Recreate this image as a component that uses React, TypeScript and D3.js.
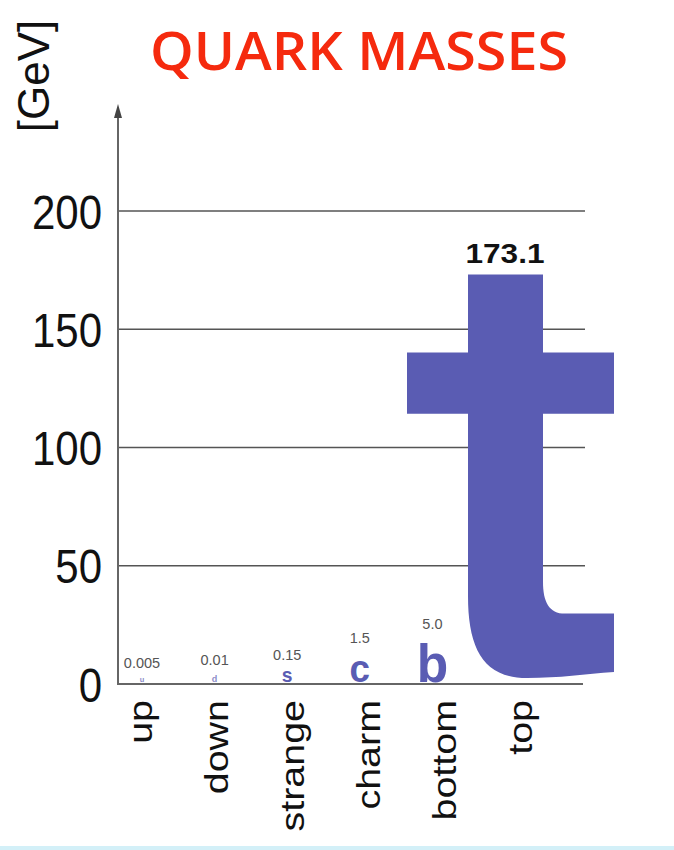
import React from "react";
import * as d3 from "d3";

const quarks = ["up", "down", "strange", "charm", "bottom", "top"];
const symbols = ["u", "d", "s", "c", "b", "t"];
const masses = [0.005, 0.01, 0.15, 1.5, 5.0, 173.1];
const massLabels = ["0.005", "0.01", "0.15", "1.5", "5.0", "173.1"];
const yTicks = [0, 50, 100, 150, 200];
const gridTicks = [50, 100, 150, 200];

const W = 674;
const H = 850;
const PURPLE = "#5a5cb3";
const SANS = "'Liberation Sans', Arial, Helvetica, sans-serif";

export default function App() {
  const y = d3.scaleLinear().domain([0, 200]).range([684, 211]);
  const xLabel = d3.scalePoint().domain(quarks).range([140, 520]);
  const xGlyph = d3.scalePoint().domain(quarks).range([142, 505]);
  const size = d3.scalePow().exponent(0.28).domain([0, 5]).range([0, 46]);

  const axisX = 118;
  const gridEnd = 585;
  const y0 = y(0);

  // big "t" glyph for the top quark, height given by its mass
  const topMass = masses[5];
  const cx = xGlyph("top") as number;
  const L = cx - 37;
  const R = cx + 38;
  const top = y(topMass);
  const crossTop = y(topMass * 0.81);
  const crossBot = y(topMass * 0.66);
  const hookTop = y(topMass * 0.172);
  const innerStart = y(topMass * 0.25);
  const leftStart = y(topMass * 0.215);
  const bottom = y0 - 6;
  const bottomRight = y0 - 12;
  const p = d3.path();
  p.moveTo(L, top);
  p.lineTo(R, top);
  p.lineTo(R, crossTop);
  p.lineTo(cx + 109, crossTop);
  p.lineTo(cx + 109, crossBot);
  p.lineTo(R, crossBot);
  p.lineTo(R, innerStart);
  p.bezierCurveTo(R, hookTop - 12, R + 6, hookTop, R + 22, hookTop);
  p.lineTo(cx + 109, hookTop);
  p.lineTo(cx + 109, bottomRight);
  p.bezierCurveTo(cx + 80, bottomRight + 2, cx + 55, bottom, cx + 22, bottom);
  p.bezierCurveTo(cx - 22, bottom, L, bottom - 30, L, leftStart);
  p.lineTo(L, crossBot);
  p.lineTo(cx - 98, crossBot);
  p.lineTo(cx - 98, crossTop);
  p.lineTo(L, crossTop);
  p.closePath();

  return (
    <svg
      width={W}
      height={H}
      style={{ position: "absolute", left: 0, top: 0, background: "#fff" }}
    >
      <rect x={0} y={0} width={W} height={H} fill="#fff" />
      {/* title */}
      <text
        x={359}
        y={70}
        textAnchor="middle"
        fontFamily="'Open Sans', sans-serif"
        fontWeight={600}
        fontSize={53}
        textLength={418}
        lengthAdjust="spacingAndGlyphs"
        fill="#f52a0e"
      >
        QUARK MASSES
      </text>
      {/* y axis unit */}
      <text
        transform="translate(49,76) rotate(-90)"
        textAnchor="middle"
        fontFamily={SANS}
        fontSize={44}
        fill="#111"
      >
        [GeV]
      </text>
      {/* grid lines */}
      {gridTicks.map((t) => (
        <line
          key={t}
          x1={axisX}
          x2={gridEnd}
          y1={y(t)}
          y2={y(t)}
          stroke="#555"
          strokeWidth={1.5}
        />
      ))}
      {/* axes */}
      <line x1={axisX} x2={583} y1={y0} y2={y0} stroke="#666" strokeWidth={2} />
      <line x1={axisX} x2={axisX} y1={y0 + 1} y2={112} stroke="#666" strokeWidth={2} />
      <path
        d={`M${axisX},104 L${axisX - 4},118 L${axisX + 4},118 Z`}
        fill="#444"
      />
      {/* y tick labels */}
      {yTicks.map((t) => (
        <text
          key={t}
          transform={`translate(102,${y(t)}) scale(1,1.16)`}
          dy="0.36em"
          textAnchor="end"
          fontFamily={SANS}
          fontSize={42}
          fill="#111"
        >
          {t}
        </text>
      ))}
      {/* small quark letters */}
      {quarks.slice(0, 5).map((q, i) => {
        const fs = size(masses[i]);
        const tall = /[bdhklt]/.test(symbols[i]);
        const hgt = (tall ? 0.72 : 0.52) * fs * 1.16;
        const gx = xGlyph(q) as number;
        const base = y0 - 2;
        const labelY = Math.min(base - hgt - 10, base - 0.92 * fs * 1.16 - 4);
        return (
          <g key={q}>
            <text
              transform={`translate(${gx},${base}) scale(1.12,1.16)`}
              textAnchor="middle"
              fontFamily={SANS}
              fontWeight="bold"
              fontSize={fs}
              fill={PURPLE}
              opacity={fs < 10 ? 0.7 : 1}
            >
              {symbols[i]}
            </text>
            <text
              x={gx}
              y={labelY}
              textAnchor="middle"
              fontFamily={SANS}
              fontSize={14.5}
              fill="#555"
            >
              {massLabels[i]}
            </text>
          </g>
        );
      })}
      {/* top quark */}
      <path d={p.toString()} fill={PURPLE} />
      <text
        x={cx}
        y={top - 12}
        textAnchor="middle"
        fontFamily={SANS}
        fontWeight="bold"
        fontSize={27}
        textLength={79}
        lengthAdjust="spacingAndGlyphs"
        fill="#111"
      >
        {massLabels[5]}
      </text>
      {/* x labels */}
      {quarks.map((q) => (
        <text
          key={q}
          transform={`translate(${xLabel(q)},700) scale(1,1.16) rotate(-90)`}
          dy="0.35em"
          textAnchor="end"
          fontFamily={SANS}
          fontSize={34}
          fill="#111"
        >
          {q}
        </text>
      ))}
      {/* bottom border */}
      <rect x={0} y={846} width={W} height={4} fill="#d3f0f8" />
    </svg>
  );
}
